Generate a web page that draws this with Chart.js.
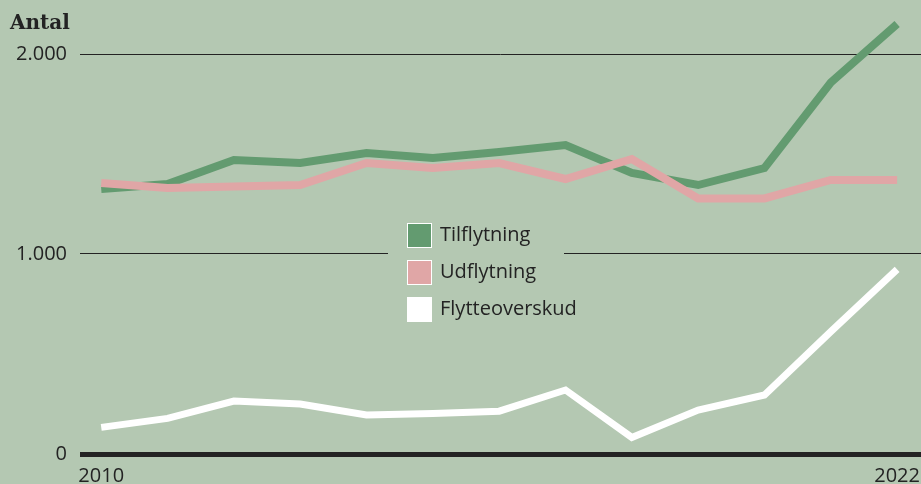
<!DOCTYPE html>
<html>
<head>
<meta charset="utf-8">
<script src="https://cdn.jsdelivr.net/npm/chart.js@4/dist/chart.umd.min.js"></script>
<style>
  html, body { margin: 0; padding: 0; background: #b4c8b2; }
  #wrap { width: 921px; height: 484px; }
</style>
</head>
<body>
<div id="wrap"><canvas id="myChart" width="921" height="484"></canvas></div>
<script>
"use strict";
const years = [2010, 2011, 2012, 2013, 2014, 2015, 2016, 2017, 2018, 2019, 2020, 2021, 2022];
const tilflytning = [1325, 1350, 1470, 1455, 1505, 1480, 1510, 1545, 1405, 1345, 1430, 1857, 2150];
const udflytning = [1355, 1330, 1338, 1345, 1455, 1430, 1455, 1375, 1475, 1278, 1278, 1370, 1370];
const flytteoverskud = [133, 178, 265, 250, 195, 202, 214, 320, 83, 220, 295, 612, 923];
const seriesNames = ["Tilflytning", "Udflytning", "Flytteoverskud"];
const yTicks = [0, 1000, 2000];
const xTicks = [2010, 2022];

const bg = "#b4c8b2";
const ink = "#232323";
const colors = ["#639b70", "#e0a6a6", "#ffffff"];
const textFont = "'Open Sans'";

function toPoints(values) {
  return years.map((y, i) => ({ x: y, y: values[i] }));
}

function formatNumber(v) {
  if (v < 1000) return String(v);
  return Math.floor(v / 1000) + "." + String(v % 1000).padStart(3, "0");
}

// background + title + legend box in the middle of the plot
const decorations = {
  id: "decorations",
  beforeDraw(chart) {
    const c = chart.ctx;
    c.save();
    c.fillStyle = bg;
    c.fillRect(0, 0, chart.width, chart.height);
    c.restore();
  },
  beforeDatasetsDraw(chart) {
    const c = chart.ctx;
    c.save();
    c.fillStyle = bg;
    c.fillRect(388, 214, 176, 116);
    seriesNames.forEach((name, i) => {
      const top = 223 + i * 37;
      c.fillStyle = colors[i];
      c.fillRect(407, top, 25, 25);
      c.strokeStyle = "#ffffff";
      c.lineWidth = 1;
      c.strokeRect(407.5, top + 0.5, 24, 24);
      c.fillStyle = ink;
      c.font = "20px " + textFont;
      c.textBaseline = "middle";
      c.textAlign = "left";
      c.fillText(name, 440, top + 12);
    });
    c.restore();
  },
  afterDraw(chart) {
    const c = chart.ctx;
    c.save();
    c.fillStyle = ink;
    c.font = "bold 20px 'DejaVu Serif'";
    c.textBaseline = "alphabetic";
    c.textAlign = "left";
    c.fillText("Antal", 10, 29);
    c.restore();
  },
};

const ctx = document.getElementById("myChart");

const myChart = new Chart(ctx, {
  type: "line",
  data: {
    datasets: [
      {
        label: seriesNames[0],
        data: toPoints(tilflytning),
        borderColor: colors[0],
        borderWidth: 8,
        order: 3,
      },
      {
        label: seriesNames[1],
        data: toPoints(udflytning),
        borderColor: colors[1],
        borderWidth: 8,
        order: 2,
      },
      {
        label: seriesNames[2],
        data: toPoints(flytteoverskud),
        borderColor: colors[2],
        borderWidth: 7,
        order: 1,
      },
    ],
  },
  options: {
    responsive: false,
    animation: false,
    devicePixelRatio: 1,
    layout: { padding: { top: 14, left: 0, right: 0, bottom: 0 } },
    elements: {
      point: { radius: 0 },
      line: { tension: 0, borderJoinStyle: "miter", borderCapStyle: "butt", fill: false },
    },
    plugins: {
      legend: { display: false },
      tooltip: { enabled: false },
    },
    scales: {
      x: {
        type: "linear",
        min: 2009.68,
        max: 2022.36,
        afterBuildTicks: (scale) => {
          scale.ticks = xTicks.map((v) => ({ value: v }));
        },
        afterFit: (scale) => {
          scale.height = 30;
          scale.paddingLeft = 0;
          scale.paddingRight = 0;
        },
        grid: { display: false, drawTicks: false },
        border: { display: false },
        ticks: {
          autoSkip: false,
          maxRotation: 0,
          padding: 10,
          color: ink,
          font: { family: textFont, size: 20 },
          callback: (v) => String(v),
        },
      },
      y: {
        min: 0,
        max: 2200,
        afterBuildTicks: (scale) => {
          scale.ticks = yTicks.map((v) => ({ value: v }));
        },
        afterFit: (scale) => {
          scale.width = 80;
          scale.paddingTop = 0;
          scale.paddingBottom = 0;
        },
        grid: {
          drawTicks: false,
          tickLength: 0,
          color: ink,
          lineWidth: (c) => (c.tick && c.tick.value === 0 ? 5 : 1),
        },
        border: { display: false },
        ticks: {
          padding: 13,
          color: ink,
          font: { family: textFont, size: 20 },
          callback: (v) => formatNumber(v),
        },
      },
    },
  },
  plugins: [decorations],
});
</script>
</body>
</html>
